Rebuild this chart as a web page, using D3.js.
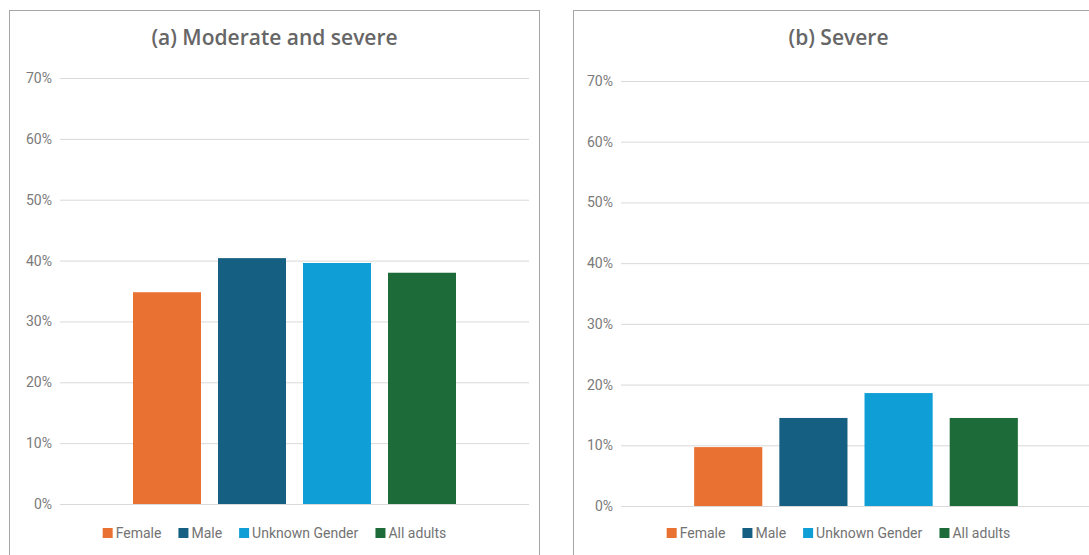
<!DOCTYPE html>
<html>
<head>
<meta charset="utf-8">
<script src="https://cdn.jsdelivr.net/npm/d3@7"></script>
<style>
  body { margin: 0; background: #fff; }
  svg { display: block; }
</style>
</head>
<body>
<div id="chart"></div>
<script>
// data
const series = ["Female", "Male", "Unknown Gender", "All adults"];
const colors = ["#e97132", "#156082", "#0f9ed5", "#1c6b38"];
const titles = ["(a) Moderate and severe", "(b) Severe"];
const moderateSevere = [0.348, 0.404, 0.396, 0.380];
const severe = [0.097, 0.145, 0.186, 0.145];
const yTicks = [0, 0.1, 0.2, 0.3, 0.4, 0.5, 0.6, 0.7];

const svg = d3.select("#chart").append("svg")
    .attr("width", 1089)
    .attr("height", 555);

// panel layouts (pixel boxes for each chart)
const panels = [
    {title: titles[0], values: moderateSevere, box: {x: 9.5, y: 10.5, w: 530},
     plot: {left: 60, right: 529, top: 78, bottom: 504}, legendY: 533},
    {title: titles[1], values: severe, box: {x: 573.5, y: 10.5, w: 530},
     plot: {left: 621, right: 1091, top: 81, bottom: 506}, legendY: 533}
];

panels.forEach(function(p) {
    let g = svg.append("g");
    let boxCenter = p.box.x + p.box.w / 2;

    // border
    g.append("rect")
        .attr("x", p.box.x)
        .attr("y", p.box.y)
        .attr("width", p.box.w)
        .attr("height", 600)
        .attr("fill", "none")
        .attr("stroke", "#a6a6a6")
        .attr("stroke-width", 1);

    // title
    g.append("text")
        .attr("x", boxCenter)
        .attr("y", 45)
        .attr("text-anchor", "middle")
        .style("font-family", "'Open Sans', sans-serif")
        .style("font-weight", 600)
        .style("font-size", "21px")
        .style("fill", "#666666")
        .text(p.title);

    // scales
    let y = d3.scaleLinear()
        .domain([0, 0.7])
        .range([p.plot.bottom, p.plot.top]);

    let x0 = d3.scaleBand()
        .domain(["all"])
        .range([p.plot.left, p.plot.right])
        .paddingInner(0)
        .paddingOuter(0.226);

    let x1 = d3.scaleBand()
        .domain(series)
        .range([x0("all"), x0("all") + x0.bandwidth()])
        .paddingInner(0.2)
        .paddingOuter(0);

    // gridlines + y axis
    let yAxis = d3.axisLeft(y)
        .tickValues(yTicks)
        .tickFormat(d3.format(".0%"))
        .tickSize(-(p.plot.right - p.plot.left))
        .tickPadding(8);

    let ax = g.append("g")
        .attr("transform", `translate(${p.plot.left},0)`)
        .call(yAxis);
    ax.select(".domain").remove();
    ax.selectAll(".tick line")
        .attr("stroke", "#d9d9d9")
        .attr("stroke-width", 1);
    ax.selectAll(".tick text")
        .style("font-family", "Roboto, sans-serif")
        .style("font-size", "14px")
        .style("fill", "#7a7a7a");

    // bars
    g.append("g").selectAll("rect")
        .data(p.values)
        .enter().append("rect")
        .attr("x", (d, i) => x1(series[i]))
        .attr("width", x1.bandwidth())
        .attr("y", d => y(d))
        .attr("height", d => y(0) - y(d))
        .attr("fill", (d, i) => colors[i]);

    // legend
    let legend = g.append("g");
    let items = legend.selectAll("g")
        .data(series)
        .enter().append("g");
    items.append("rect")
        .attr("width", 10)
        .attr("height", 10)
        .attr("y", -10)
        .attr("fill", (d, i) => colors[i]);
    items.append("text")
        .attr("x", 13)
        .attr("y", 0)
        .style("font-family", "Roboto, sans-serif")
        .style("font-size", "14px")
        .style("fill", "#737373")
        .text(d => d);

    // lay legend items side by side, then center on the panel
    let cursor = 0;
    items.each(function() {
        let w = this.getBBox().width;
        d3.select(this).attr("transform", `translate(${cursor},0)`);
        cursor += w + 17;
    });
    let total = cursor - 17;
    legend.attr("transform", `translate(${boxCenter - total / 2},${p.legendY + 5})`);
});
</script>
</body>
</html>
